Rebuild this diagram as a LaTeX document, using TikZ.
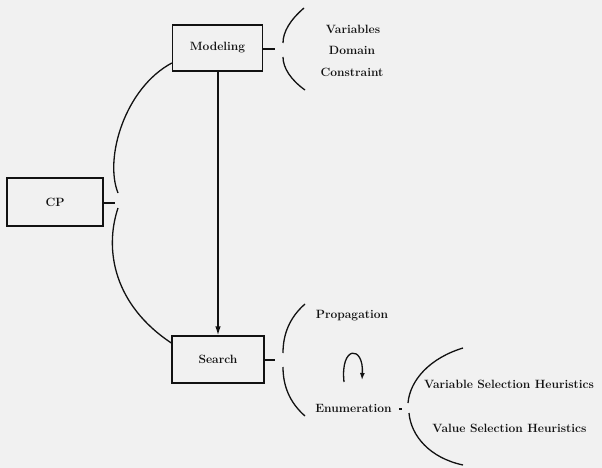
\documentclass[tikz,border=0pt]{standalone}
\usetikzlibrary{arrows.meta}
\definecolor{bg}{HTML}{F1F1F1}
\definecolor{ink}{HTML}{121212}
\begin{document}
\begin{tikzpicture}[x=1pt,y=-1pt,
  box/.style={draw=ink,line width=1.3pt,minimum width=#1,inner sep=0pt,font=\fontsize{12}{14}\selectfont\bfseries,text=ink},
  lbl/.style={inner sep=0pt,font=\fontsize{12}{14}\selectfont\bfseries,text=ink},
  ln/.style={draw=ink,line width=1.3pt}]
\fill[bg] (0,0) rectangle (602,468);
\useasboundingbox (0,0) rectangle (602,468);
% boxes
\node[box=90pt,minimum height=46pt] (model) at (217.5,48) {Modeling};
\node[box=96pt,minimum height=48pt] (cp) at (55,202) {CP};
\node[box=92pt,minimum height=47pt] (search) at (218,359.5) {Search};
% labels
\node[lbl] (var) at (353,29) {Variables};
\node[lbl] (dom) at (352,50) {Domain};
\node[lbl] (con) at (352,72) {Constraint};
\node[lbl] (prop) at (352,316) {Propagation};
\node[lbl] (enum) at (353.5,408) {Enumeration};
\node[lbl] (vsh) at (509,384) {Variable Selection Heuristics};
\node[lbl] (valsh) at (509.5,428) {Value Selection Heuristics};
% coordinates for stub ends
\coordinate (ms) at (275,49);
\coordinate (ss) at (275,360);
\coordinate (cs) at (115,203);
\coordinate (es0) at (399,409);
\coordinate (es) at (402,409);
% main arrow
\draw[ln,-{Latex[length=9pt,width=5.5pt]}] (search.north |- model.south) -- (search.north);
% stubs
\draw[ln] (model.east |- ms) -- (ms);
\draw[ln] (search.east |- ss) -- (ss);
\draw[ln] (cp.east |- cs) -- (cs);
\draw[ln] (es0) -- (es);
% Modeling bracket
\draw[ln] (304,8) .. controls (290,20) and (283,32) .. (283,43);
\draw[ln] (283,57) .. controls (283,68) and (291,80) .. (305,90);
% Search bracket
\draw[ln] (305,304) .. controls (289,318) and (283,335) .. (283,353);
\draw[ln] (283,367) .. controls (283,385) and (289,402) .. (305,416);
% Enumeration bracket
\draw[ln] (463,348) .. controls (430,358) and (410,380) .. (408,403);
\draw[ln] (409,413) .. controls (411,436) and (430,458) .. (463,465);
% big left bracket
\draw[ln] (model.west |- 0,63) .. controls (125,88) and (104,158) .. (118,193);
\draw[ln] (118,208) .. controls (104,250) and (114,305) .. (search.west |- 0,343);
% loop arrow
\draw[ln,-{Latex[length=7pt,width=5pt]}] (344,382) .. controls (340,345) and (364,345) .. (362,380);
\end{tikzpicture}
\end{document}
